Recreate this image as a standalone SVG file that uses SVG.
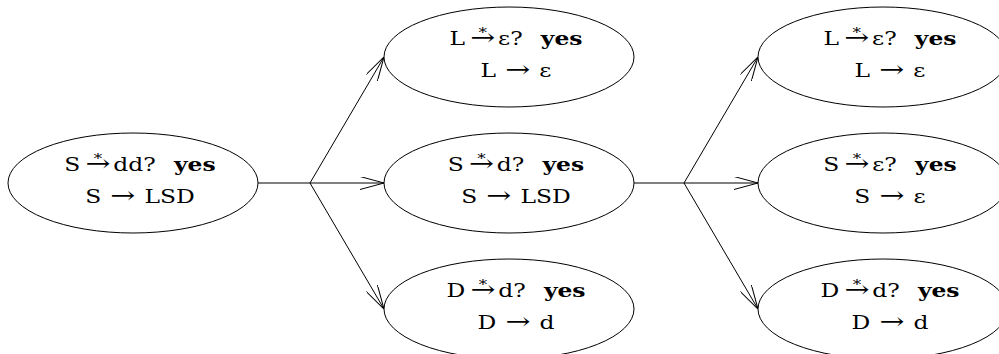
<svg xmlns="http://www.w3.org/2000/svg" width="999" height="354" viewBox="0 0 999 354">
<defs>
<style>
.node ellipse{fill:#fff;stroke:#000;stroke-width:1}
.edge{stroke:#000;stroke-width:1;fill:none}
</style>
<marker id="arr" viewBox="0 0 24 13" refX="24" refY="6.5" markerWidth="24" markerHeight="13" markerUnits="userSpaceOnUse" orient="auto">
<path d="M0,0 L24,6.5 L0,13" fill="none" stroke="#000" stroke-width="1"/>
</marker>
</defs>
<g id="connectors">
<path class="edge" d="M258,183 H310"/>
<path class="edge" d="M310,183 L384,57" marker-end="url(#arr)"/>
<path class="edge" d="M310,183 L384,183" marker-end="url(#arr)"/>
<path class="edge" d="M310,183 L384,309" marker-end="url(#arr)"/>
<path class="edge" d="M634,183 H684"/>
<path class="edge" d="M684,183 L758,57" marker-end="url(#arr)"/>
<path class="edge" d="M684,183 L758,183" marker-end="url(#arr)"/>
<path class="edge" d="M684,183 L758,309" marker-end="url(#arr)"/>
</g>
<g id="n0" class="node">
<ellipse cx="133" cy="183" rx="125" ry="50"/>
<g transform="translate(140,183) scale(1.3,1)" font-size="18" text-anchor="middle" fill="#000" font-family="'DejaVu Serif', serif">
<text y="-12"><tspan>S</tspan><tspan font-size="23" dx="4">→</tspan><tspan font-size="13" dx="-12.9" dy="-8">*</tspan><tspan dx="8.5" dy="8">dd?</tspan><tspan font-weight="bold" dx="14">yes</tspan></text>
<text y="20"><tspan>S</tspan><tspan font-size="23" dx="7">→</tspan><tspan dx="7">LSD</tspan></text>
</g>
</g>
<g id="n1" class="node">
<ellipse cx="509" cy="57" rx="125" ry="50"/>
<g transform="translate(516,57) scale(1.3,1)" font-size="18" text-anchor="middle" fill="#000" font-family="'DejaVu Serif', serif">
<text y="-12"><tspan>L</tspan><tspan font-size="23" dx="4">→</tspan><tspan font-size="13" dx="-12.9" dy="-8">*</tspan><tspan dx="8.5" dy="8">ε?</tspan><tspan font-weight="bold" dx="14">yes</tspan></text>
<text y="20"><tspan>L</tspan><tspan font-size="23" dx="7">→</tspan><tspan dx="7">ε</tspan></text>
</g>
</g>
<g id="n2" class="node">
<ellipse cx="509" cy="183" rx="125" ry="50"/>
<g transform="translate(516,183) scale(1.3,1)" font-size="18" text-anchor="middle" fill="#000" font-family="'DejaVu Serif', serif">
<text y="-12"><tspan>S</tspan><tspan font-size="23" dx="4">→</tspan><tspan font-size="13" dx="-12.9" dy="-8">*</tspan><tspan dx="8.5" dy="8">d?</tspan><tspan font-weight="bold" dx="14">yes</tspan></text>
<text y="20"><tspan>S</tspan><tspan font-size="23" dx="7">→</tspan><tspan dx="7">LSD</tspan></text>
</g>
</g>
<g id="n3" class="node">
<ellipse cx="509" cy="309" rx="125" ry="50"/>
<g transform="translate(516,309) scale(1.3,1)" font-size="18" text-anchor="middle" fill="#000" font-family="'DejaVu Serif', serif">
<text y="-12"><tspan>D</tspan><tspan font-size="23" dx="4">→</tspan><tspan font-size="13" dx="-12.9" dy="-8">*</tspan><tspan dx="8.5" dy="8">d?</tspan><tspan font-weight="bold" dx="14">yes</tspan></text>
<text y="20"><tspan>D</tspan><tspan font-size="23" dx="7">→</tspan><tspan dx="7">d</tspan></text>
</g>
</g>
<g id="n4" class="node">
<ellipse cx="883" cy="57" rx="125" ry="50"/>
<g transform="translate(890,57) scale(1.3,1)" font-size="18" text-anchor="middle" fill="#000" font-family="'DejaVu Serif', serif">
<text y="-12"><tspan>L</tspan><tspan font-size="23" dx="4">→</tspan><tspan font-size="13" dx="-12.9" dy="-8">*</tspan><tspan dx="8.5" dy="8">ε?</tspan><tspan font-weight="bold" dx="14">yes</tspan></text>
<text y="20"><tspan>L</tspan><tspan font-size="23" dx="7">→</tspan><tspan dx="7">ε</tspan></text>
</g>
</g>
<g id="n5" class="node">
<ellipse cx="883" cy="183" rx="125" ry="50"/>
<g transform="translate(890,183) scale(1.3,1)" font-size="18" text-anchor="middle" fill="#000" font-family="'DejaVu Serif', serif">
<text y="-12"><tspan>S</tspan><tspan font-size="23" dx="4">→</tspan><tspan font-size="13" dx="-12.9" dy="-8">*</tspan><tspan dx="8.5" dy="8">ε?</tspan><tspan font-weight="bold" dx="14">yes</tspan></text>
<text y="20"><tspan>S</tspan><tspan font-size="23" dx="7">→</tspan><tspan dx="7">ε</tspan></text>
</g>
</g>
<g id="n6" class="node">
<ellipse cx="883" cy="309" rx="125" ry="50"/>
<g transform="translate(890,309) scale(1.3,1)" font-size="18" text-anchor="middle" fill="#000" font-family="'DejaVu Serif', serif">
<text y="-12"><tspan>D</tspan><tspan font-size="23" dx="4">→</tspan><tspan font-size="13" dx="-12.9" dy="-8">*</tspan><tspan dx="8.5" dy="8">d?</tspan><tspan font-weight="bold" dx="14">yes</tspan></text>
<text y="20"><tspan>D</tspan><tspan font-size="23" dx="7">→</tspan><tspan dx="7">d</tspan></text>
</g>
</g>
</svg>
